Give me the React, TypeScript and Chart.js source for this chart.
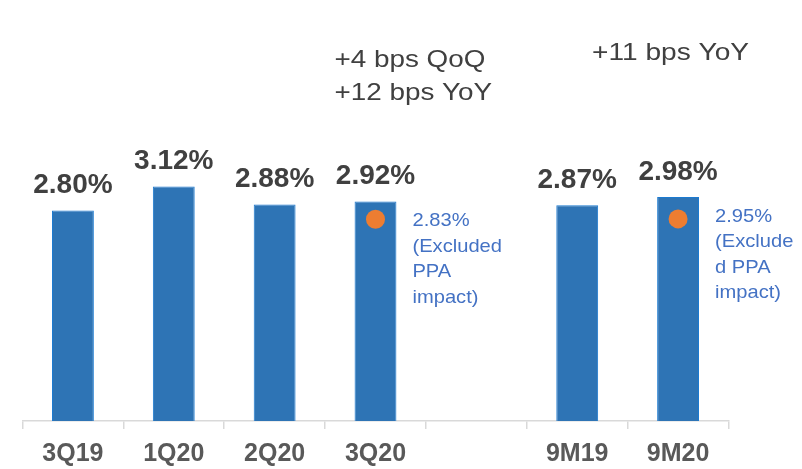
import React, { useEffect, useRef } from "react";
import { Chart, registerables } from "chart.js";

Chart.register(...registerables);

const categories = ["3Q19", "1Q20", "2Q20", "3Q20", "", "9M19", "9M20"];
const nimValues: (number | null)[] = [2.8, 3.12, 2.88, 2.92, null, 2.87, 2.98];
const exPpaValues: (number | null)[] = [null, null, null, 2.83, null, null, 2.95];
const exPpaCaptions: (string[] | null)[] = [
  null,
  null,
  null,
  ["(Excluded", "PPA", "impact)"],
  null,
  null,
  ["(Exclude", "d PPA", "impact)"],
];
const changeNotesQuarter = ["+4 bps QoQ", "+12 bps YoY"];
const changeNotesNineMonths = ["+11 bps YoY"];

const FONT = '"Liberation Sans", Arial, sans-serif';

function drawStretched(
  ctx: CanvasRenderingContext2D,
  text: string,
  x: number,
  y: number,
  sx: number,
  align: CanvasTextAlign
) {
  ctx.save();
  ctx.translate(x, y);
  ctx.scale(sx, 1);
  ctx.textAlign = align;
  ctx.textBaseline = "alphabetic";
  ctx.fillText(text, 0, 0);
  ctx.restore();
}

const annotationPlugin = {
  id: "annotations",
  afterDatasetsDraw(chart: any) {
    const ctx: CanvasRenderingContext2D = chart.ctx;
    const xScale = chart.scales.x;
    const barMeta = chart.getDatasetMeta(1);

    // value labels above bars
    ctx.save();
    ctx.fillStyle = "#404040";
    ctx.font = `bold 28px ${FONT}`;
    barMeta.data.forEach((bar: any, i: number) => {
      const v = nimValues[i];
      if (v == null) return;
      drawStretched(ctx, v.toFixed(2) + "%", bar.x, bar.y - 17, 1.0, "center");
    });

    // excluded PPA notes
    ctx.fillStyle = "#4472C4";
    ctx.font = `19px ${FONT}`;
    barMeta.data.forEach((bar: any, i: number) => {
      const v = exPpaValues[i];
      const cap = exPpaCaptions[i];
      if (v == null || !cap) return;
      const lines = [v.toFixed(2) + "%", ...cap];
      const left = bar.x + bar.width / 2 + 16;
      const top = bar.y + 25;
      lines.forEach((t, k) => drawStretched(ctx, t, left, top + k * 25.5, 1.06, "left"));
    });

    // change notes
    ctx.fillStyle = "#404040";
    ctx.font = `24px ${FONT}`;
    const xq = xScale.getPixelForValue(3);
    changeNotesQuarter.forEach((t, k) => drawStretched(ctx, t, xq - 41, 67 + k * 33, 1.16, "left"));
    const xm = xScale.getPixelForValue(6);
    changeNotesNineMonths.forEach((t, k) => drawStretched(ctx, t, xm - 86, 60 + k * 33, 1.17, "left"));
    ctx.restore();
  },
};

export default function App() {
  const canvasRef = useRef<HTMLCanvasElement | null>(null);

  useEffect(() => {
    if (!canvasRef.current) return;
    const chart = new Chart(canvasRef.current, {
      type: "bar",
      data: {
        labels: categories,
        datasets: [
          {
            type: "line",
            label: "Excluded PPA impact",
            data: exPpaValues,
            yAxisID: "y2",
            showLine: false,
            pointRadius: 9.5,
            pointHoverRadius: 9.5,
            pointBackgroundColor: "#ED7D31",
            pointBorderWidth: 0,
            borderColor: "#ED7D31",
            order: 0,
          } as any,
          {
            type: "bar",
            label: "NIM",
            data: nimValues,
            yAxisID: "y",
            backgroundColor: "#2E74B5",
            borderColor: "#1C7AD0",
            borderWidth: 1,
            categoryPercentage: 1,
            barPercentage: 0.415,
            order: 1,
          } as any,
        ],
      },
      options: {
        animation: false,
        responsive: true,
        maintainAspectRatio: false,
        layout: { padding: { left: 22.5, right: 73.5, top: 45, bottom: -10 } },
        plugins: {
          legend: { display: false },
          tooltip: { enabled: false },
        },
        scales: {
          x: {
            offset: true,
            grid: {
              offset: true,
              drawOnChartArea: false,
              drawTicks: true,
              tickLength: 8,
              color: "#D9D9D9",
              lineWidth: 1.5,
            },
            border: { display: true, color: "#D9D9D9", width: 1.5 },
            ticks: {
              color: "#595959",
              padding: 10,
              font: { family: FONT, size: 25, weight: "bold" },
              maxRotation: 0,
              autoSkip: false,
            },
          },
          y: {
            display: false,
            min: 0,
            max: 5,
          },
          y2: {
            display: false,
            min: -50,
            max: 48.5,
          },
        },
      },
      plugins: [annotationPlugin],
    });
    return () => chart.destroy();
  }, []);

  return (
    <div style={{ position: "absolute", left: 0, top: 0, width: 802, height: 469 }}>
      <canvas ref={canvasRef} />
    </div>
  );
}
